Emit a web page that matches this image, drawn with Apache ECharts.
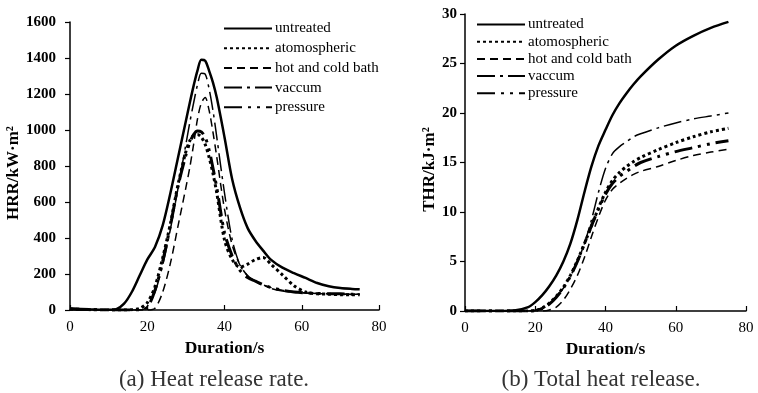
<!DOCTYPE html>
<html>
<head>
<meta charset="utf-8">
<script src="https://cdn.jsdelivr.net/npm/echarts@6/dist/echarts.min.js"></script>
<style>
  html, body { margin: 0; padding: 0; background: #fff; }
  #chart { width: 758px; height: 393px; }
</style>
</head>
<body>
<div id="chart"></div>
<script>
// series names as printed in the legends
const names = ["untreated", "atomospheric", "hot and cold bath", "vaccum", "pressure"];

// (a) heat release rate
const hrrTime = [0, 5, 10, 12, 14, 16, 18, 20, 22, 24, 26, 28, 30, 31, 32, 33, 34, 35, 36, 37, 38, 40, 42, 44, 46, 48, 50, 52, 55, 58, 61, 64, 67, 70, 73, 75];
const hrrUntreated = [8, 4, 1, 5, 35, 100, 190, 280, 350, 470, 650, 850, 1050, 1150, 1245, 1330, 1390, 1385, 1330, 1265, 1180, 960, 725, 570, 455, 385, 330, 280, 235, 205, 178, 150, 132, 122, 117, 115];
const hrrAtmos = [5, 2, 0, 0, 0, 2, 8, 40, 130, 290, 480, 700, 880, 940, 970, 975, 960, 920, 850, 760, 650, 390, 280, 238, 255, 280, 292, 255, 195, 135, 100, 90, 88, 85, 85, 85];
const hrrHotCold = [5, 2, 0, 0, 0, 0, 0, 0, 10, 100, 260, 470, 680, 790, 920, 1060, 1150, 1180, 1110, 990, 850, 560, 360, 250, 190, 160, 140, 125, 110, 100, 95, 92, 90, 88, 88, 88];
const hrrVaccum = [5, 2, 0, 0, 0, 0, 0, 20, 100, 250, 450, 680, 920, 1040, 1150, 1250, 1315, 1310, 1230, 1110, 960, 650, 390, 250, 190, 160, 140, 120, 105, 98, 95, 92, 90, 88, 88, 88];
const hrrPressure = [5, 2, 0, 0, 0, 0, 0, 15, 110, 270, 470, 690, 860, 930, 975, 995, 990, 960, 890, 790, 680, 430, 300, 220, 180, 160, 140, 125, 110, 100, 95, 92, 90, 90, 88, 88];

// (b) total heat release
const thrTime = [0, 5, 10, 14, 18, 20, 22, 24, 26, 28, 30, 32, 34, 36, 38, 40, 42, 44, 46, 48, 50, 55, 60, 65, 70, 75];
const thrUntreated = [0, 0, 0, 0.05, 0.4, 0.9, 1.6, 2.5, 3.6, 5, 6.8, 9.2, 12, 14.6, 16.7, 18.3, 19.8, 21, 22, 22.9, 23.7, 25.4, 26.8, 27.8, 28.6, 29.2];
const thrAtmos = [0, 0, 0, 0, 0, 0.05, 0.3, 0.8, 1.5, 2.4, 3.6, 5.1, 6.8, 8.6, 10.4, 12, 13.2, 14, 14.6, 15.1, 15.5, 16.3, 17, 17.6, 18.1, 18.45];
const thrHotCold = [0, 0, 0, 0, 0, 0, 0, 0.1, 0.4, 1.1, 2.2, 3.6, 5.4, 7.5, 9.5, 11.2, 12.3, 12.9, 13.4, 13.8, 14.1, 14.6, 15.2, 15.7, 16.05, 16.35];
const thrVaccum = [0, 0, 0, 0, 0, 0.1, 0.3, 0.8, 1.5, 2.3, 3.5, 5, 6.8, 9.2, 12, 14.4, 15.9, 16.6, 17.1, 17.6, 17.9, 18.5, 19, 19.4, 19.7, 20];
const thrPressure = [0, 0, 0, 0, 0, 0.05, 0.25, 0.7, 1.4, 2.3, 3.5, 5, 6.8, 8.6, 10.3, 11.8, 12.9, 13.6, 14.1, 14.6, 15, 15.6, 16.1, 16.5, 16.9, 17.2];

const xTicks = [0, 20, 40, 60, 80];

const font = "'Liberation Serif', 'Times New Roman', serif";

const styles = [
	{ width: 2.5, type: "solid" },
	{ width: 3, type: [3, 3] },
	{ width: 1.5, type: [8, 5] },
	{ width: 1.5, type: [18, 5, 3, 5] },
	{ width: 3, type: [18, 6, 3, 6, 3, 6] },
];

function pairs(t, v) {
	return t.map((x, i) => [x, v[i]]);
}

function makeSeries(idx, t, values) {
	return values.map((v, i) => ({
		name: names[i],
		type: "line",
		xAxisIndex: idx,
		yAxisIndex: idx,
		data: pairs(t, v),
		smooth: 0.3,
		symbol: "none",
		lineStyle: { color: "#000", width: styles[i].width, type: styles[i].type },
		itemStyle: { color: "#000" },
		emphasis: { disabled: true },
	}));
}

function xAxis(idx) {
	return {
		type: "value",
		gridIndex: idx,
		min: 0,
		max: 80,
		interval: 20,
		name: "Duration/s",
		nameLocation: "middle",
		nameGap: 20,
		nameTextStyle: { fontFamily: font, fontWeight: "bold", fontSize: 17.5, color: "#000" },
		axisLine: { lineStyle: { color: "#000", width: 1.5 } },
		axisTick: { inside: true, length: 5, lineStyle: { color: "#000", width: 1.2 } },
		axisLabel: {
			fontFamily: font, fontSize: 15, color: "#000", margin: 10,
			formatter: (v) => (xTicks.includes(v) ? String(v) : ""),
		},
		splitLine: { show: false },
	};
}

function yAxis(idx, max, interval, name, gap, margin) {
	return {
		type: "value",
		gridIndex: idx,
		min: 0,
		max: max,
		interval: interval,
		name: name,
		nameLocation: "middle",
		nameGap: gap,
		nameTextStyle: {
			fontFamily: font, fontWeight: "bold", fontSize: 17, color: "#000",
			padding: [0, 14, 0, 0],
		},
		axisLine: { show: true, lineStyle: { color: "#000", width: 1.5 } },
		axisTick: { show: true, length: 5, lineStyle: { color: "#000", width: 1.2 } },
		axisLabel: {
			fontFamily: font, fontWeight: "bold", fontSize: 15, color: "#000", margin: margin,
			formatter: (v) => String(v),
		},
		splitLine: { show: false },
	};
}

const legendBase = {
	orient: "vertical",
	data: names,
	itemWidth: 48,
	itemStyle: { opacity: 0 },
	textStyle: { fontFamily: font, fontSize: 15, color: "#000", padding: [0, 0, 0, -2] },
	selectedMode: false,
};

const chart = echarts.init(document.getElementById("chart"));
chart.setOption({
	animation: false,
	backgroundColor: "#fff",
	grid: [
		{ left: 70, top: 22, width: 309, height: 288 },
		{ left: 465, top: 14, width: 281, height: 297 },
	],
	xAxis: [xAxis(0), xAxis(1)],
	yAxis: [
		yAxis(0, 1600, 200, "HRR/kW·m²", 40, 14),
		yAxis(1, 30, 5, "THR/kJ·m²", 27, 8),
	],
	legend: [
		Object.assign({}, legendBase, { left: 218, top: 16, itemHeight: 14, itemGap: 4.7 }),
		Object.assign({}, legendBase, { left: 471, top: 12, itemHeight: 12, itemGap: 2.2 }),
	],
	series: [
		...makeSeries(0, hrrTime, [hrrUntreated, hrrAtmos, hrrHotCold, hrrVaccum, hrrPressure]),
		...makeSeries(1, thrTime, [thrUntreated, thrAtmos, thrHotCold, thrVaccum, thrPressure]),
	],
	graphic: [
		{
			type: "text", x: 214, y: 380,
			style: { text: "(a) Heat release rate.", font: "23px " + font, fill: "#333", align: "center", verticalAlign: "middle" },
		},
		{
			type: "text", x: 601, y: 380,
			style: { text: "(b) Total heat release.", font: "23px " + font, fill: "#333", align: "center", verticalAlign: "middle" },
		},
	],
});
</script>
</body>
</html>
